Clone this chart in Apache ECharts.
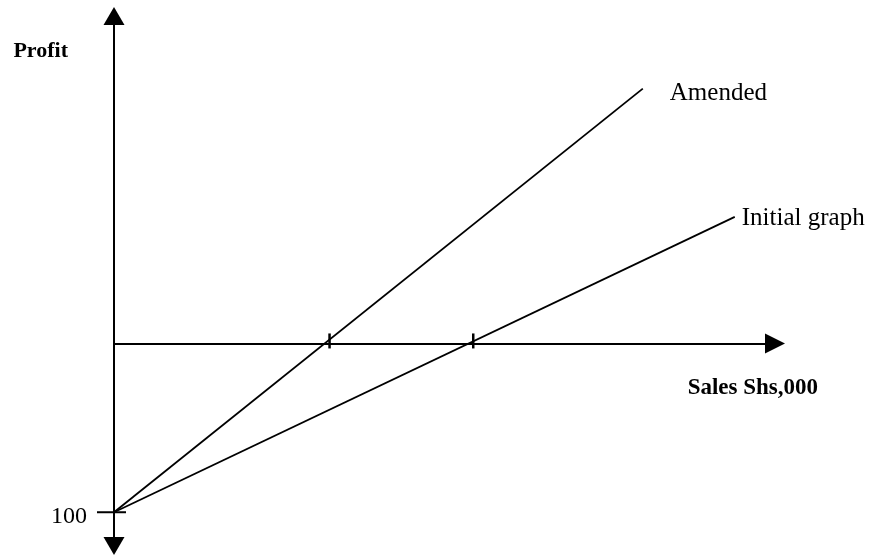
<!DOCTYPE html>
<html lang="en">

<head>
    <meta charset="UTF-8">
    <title>Profit graph</title>
    <script src="https://cdn.jsdelivr.net/npm/echarts@6.0.0/dist/echarts.min.js"></script>
    <style>
        html, body {
            margin: 0;
            padding: 0;
            background: #fff;
        }

        #chart {
            width: 870px;
            height: 556px;
        }
    </style>
</head>

<body>
    <div id="chart"></div>

    <script>
        // values (sales on x, profit on y)
        var lineNames = ['Amended', 'Initial graph'];
        var amendedLine = [[0, -100], [736, 151]];
        var initialLine = [[0, -100], [864, 75]];
        var breakEvenSales = [300, 500];
        var fixedCost = -100;
        var fixedCostLabel = '100';
        var salesRange = [0, 920];
        var profitRange = [-120, 194];

        var font = 'Liberation Serif';
        var myChart = echarts.init(document.getElementById('chart'));

        var option = {
            backgroundColor: '#fff',
            animation: false,
            grid: {
                left: 114,
                right: 95,
                top: 16,
                bottom: 10,
                containLabel: false,
                outerBoundsMode: 'none'
            },
            xAxis: {
                type: 'value',
                min: salesRange[0],
                max: salesRange[1],
                name: 'Sales Shs,000',
                nameLocation: 'end',
                nameGap: 43,
                nameTextStyle: {
                    fontFamily: font,
                    fontWeight: 'bold',
                    fontSize: 23,
                    color: '#000',
                    align: 'right',
                    verticalAlign: 'top',
                    lineHeight: 90
                },
                axisLine: {
                    onZero: true,
                    symbol: ['none', 'triangle'],
                    symbolSize: [20, 20],
                    lineStyle: { color: '#000', width: 2 }
                },
                axisTick: { show: false },
                axisLabel: { show: false },
                splitLine: { show: false }
            },
            yAxis: {
                type: 'value',
                min: profitRange[0],
                max: profitRange[1],
                name: 'Profit',
                nameLocation: 'end',
                nameGap: -35,
                nameTextStyle: {
                    fontFamily: font,
                    fontWeight: 'bold',
                    fontSize: 22,
                    color: '#000',
                    align: 'right',
                    verticalAlign: 'middle',
                    padding: [0, 46, 0, 0]
                },
                axisLine: {
                    symbol: ['triangle', 'triangle'],
                    symbolSize: [21, 18],
                    lineStyle: { color: '#000', width: 2 }
                },
                axisTick: { show: false },
                axisLabel: { show: false },
                splitLine: { show: false }
            },
            series: [
                {
                    name: lineNames[0],
                    type: 'line',
                    data: amendedLine,
                    symbol: 'none',
                    lineStyle: { color: '#000', width: 1.8 },
                    endLabel: {
                        show: true,
                        formatter: '{a}',
                        distance: 27,
                        offset: [0, 5],
                        fontFamily: font,
                        fontSize: 25,
                        color: '#000'
                    }
                },
                {
                    name: lineNames[1],
                    type: 'line',
                    data: initialLine,
                    symbol: 'none',
                    lineStyle: { color: '#000', width: 1.8 },
                    endLabel: {
                        show: true,
                        formatter: '{a}',
                        distance: 7,
                        offset: [0, 2],
                        fontFamily: font,
                        fontSize: 25,
                        color: '#000'
                    }
                },
                {
                    // break-even marks on the sales axis
                    type: 'scatter',
                    data: breakEvenSales.map(function (s) { return [s, 0]; }),
                    symbol: 'rect',
                    symbolSize: [2.5, 15],
                    symbolOffset: [0, -2.5],
                    itemStyle: { color: '#000', opacity: 1 },
                    silent: true
                },
                {
                    // fixed cost mark on the profit axis
                    type: 'scatter',
                    data: [[0, fixedCost]],
                    symbol: 'rect',
                    symbolSize: [29, 2],
                    symbolOffset: [-2.5, 0],
                    itemStyle: { color: '#000', opacity: 1 },
                    label: {
                        show: true,
                        position: 'left',
                        distance: 10,
                        offset: [0, 4],
                        formatter: fixedCostLabel,
                        fontFamily: font,
                        fontSize: 24,
                        color: '#000'
                    },
                    silent: true
                }
            ]
        };
        myChart.setOption(option);
    </script>
</body>

</html>
